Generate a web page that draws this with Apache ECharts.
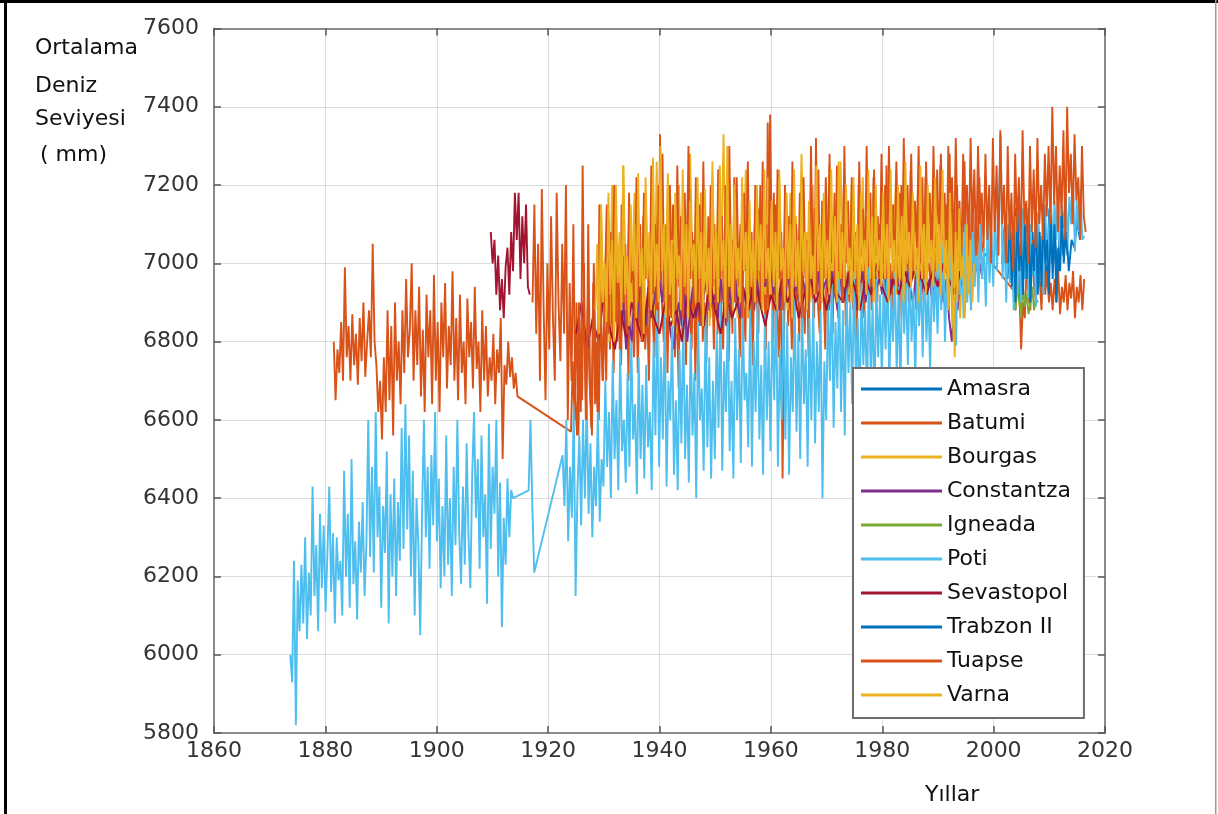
<!DOCTYPE html>
<html>
<head>
<meta charset="utf-8">
<script src="https://cdn.jsdelivr.net/npm/echarts@6/dist/echarts.min.js"></script>
<style>
  html, body { margin: 0; padding: 0; background: #fff; }
  #chart { width: 1218px; height: 814px; }
</style>
</head>
<body>
<div id="chart"></div>
<script>
// monthly-ish sea level readings (mm); x = start year + i * step
const yTicks = [5800, 6000, 6200, 6400, 6600, 6800, 7000, 7200, 7400, 7600];
const xTicks = [1860, 1880, 1900, 1920, 1940, 1960, 1980, 2000, 2020];

const stations = ['Amasra', 'Batumi', 'Bourgas', 'Constantza', 'Igneada', 'Poti', 'Sevastopol', 'Trabzon II', 'Tuapse', 'Varna'];
const colors = ['#0072BD', '#D95319', '#EDB120', '#7E2F8E', '#77AC30', '#4DBEEE', '#A2142F', '#0072BD', '#D95319', '#EDB120'];

const amasra = [7000, 7100, 6960, 7080, 6980, 7140, 6940, 7060, 7000, 7120, 6960, 7080, 6920, 7100, 6980, 7060, 6940, 7140, 7000, 7080, 6960, 7120, 7020, 7100, 6980, 7060, 7040, 7110, 7060];

const batumi1 = [6800, 6650, 6780,
  6720, 6850, 6700, 6990, 6760, 6840, 6700, 6870, 6740, 6820, 6690, 6860, 6750, 6900, 6710, 6800, 6880, 6760,
  7050, 6800, 6740, 6620, 6700, 6550, 6760, 6620, 6880, 6650, 6840, 6560, 6900, 6700, 6800, 6640, 6880, 6720,
  6960, 6760, 6830, 7000, 6700, 6880, 6740, 6940, 6660, 6830, 6620, 6920, 6760, 6880, 6640, 6970, 6700, 6850,
  6620, 6900, 6760, 6950, 6680, 6840, 6740, 6980, 6700, 6860, 6650, 6920, 6720, 6800, 6640, 6910, 6760, 6850,
  6680, 6940, 6730, 6800, 6620, 6880, 6700, 6840, 6660, 6760, 6700, 6820, 6640, 6780, 6720, 6860, 6500, 6740,
  6690, 6800, 6710, 6760, 6680, 6720, 6660];
const batumi2 = [6570, 6750, 6600, 6900, 6560, 6820, 6650, 7000, 6600, 6880, 6700, 6580, 6950, 6640, 6800, 6600, 6920, 6700,
  6880, 6700, 7050, 6780, 6950, 6720, 7100, 6800, 6900, 6740, 7020, 6820, 6960, 6700, 7080, 6850, 6760, 7000, 6720, 6940, 6800, 7120, 6780, 6900, 6700, 7050, 6860, 6760, 7150, 6820,
  7330, 6900, 6800, 7080, 6720, 6980, 6860, 7150, 6760, 6920, 6680, 7100, 6820, 7000, 6740, 7200, 6880, 6780, 7060, 6700, 6950, 6840, 7180, 6800, 6900, 6750, 7120, 6860, 6980, 6780,
  7050, 6820, 7150, 6880, 6780, 7100, 6900, 6750, 7000, 6820, 7220, 6880, 6960, 6760, 7080, 6900, 6800, 7150, 6860, 6980, 6740, 7100, 6920, 6820, 7200, 6880, 7000, 6780, 7360, 6900,
  7080, 6800, 7150, 6900, 6760, 7000, 6450, 6880, 7100, 6840, 6960, 6780, 7120, 6880, 7000, 6800, 7200, 6900, 6820, 7060, 6760, 7150, 6920, 6860, 7320, 6900, 6820, 7080, 6940, 6780,
  7100, 6880, 7000, 6820, 7180, 6920, 6860, 7080, 6900, 7200, 6840, 6980, 6900, 7150, 6880, 7050, 6800, 7200, 6940, 7000, 6860, 7120, 6920, 7050, 6880, 7220, 6960, 6900, 7100, 6940,
  7060, 6900, 7250, 6960, 7000, 6880, 7150, 6940, 7050, 6860, 7200, 6980, 6920, 7100, 6900, 7240, 6960, 7020, 6880, 7160, 6940, 7060, 6900, 7220, 6980, 7000, 6920, 7180, 6960, 7080,
  6940, 7250, 7000, 6960, 7150, 6900, 7280, 6980, 7060, 6920, 7200, 6960, 7100, 6940, 7260, 7000, 7050, 6960, 7180, 6980, 7120, 7000, 7220, 7060, 7030];
const batumi3 = [6930, 6880, 7020, 6950, 6780, 6900, 6860, 7000, 6920, 6880, 7060, 6940, 6900, 7100, 6960, 6880, 7040, 6920,
  6980, 6900, 6950, 6880, 6960, 6900, 6980, 6870, 6940, 6900, 6970, 6880, 6950, 6910, 6980, 6860, 6940, 6900, 6970, 6880, 6960];

const bourgas = [6950, 7150, 6850, 7080, 6800, 7200, 6900, 7050, 6820, 7250, 6880, 7100, 6840, 7180, 6920, 7020, 6800, 7220, 6900, 7080, 6860, 7260,
  6920, 7150, 6860, 7230, 6940, 7060, 6820, 7200, 6900, 7100, 6860, 7280, 6940, 7080, 6880, 7180, 6920, 7050, 6840, 7220,
  6900, 7120, 6960, 7330, 6880, 7100, 6920, 7200, 6860, 7080, 6940, 7240, 6900, 7060, 6960, 7180, 6880, 7120, 6920, 7220,
  6960, 7100, 6900, 7240, 6940, 7060, 6880, 7180, 6960, 7120, 6920, 7280, 6980, 7080, 6900, 7200, 6940, 7060, 6900, 7160,
  6980, 7250, 6940, 7080, 6900, 7260, 6960, 7100, 6920, 7200, 6980, 7060, 6940, 7220, 6900, 7120, 6980, 7180, 6940, 7080,
  6960, 7200, 6920, 7100, 6980, 7240, 6940, 7060, 6900, 7180, 6960, 7120, 6940, 7250, 6980, 7080, 6920, 7160, 6960, 7100,
  6900, 7220, 6940, 7060, 6880, 7100, 6760, 6980, 6860, 7080, 6900, 7000, 6880];

const constantza = [6820, 6900, 6780, 6860, 6800, 6920, 6850, 6960, 6880, 6840, 6920, 6860, 6900, 6950,
  6960, 6900, 6980, 6880, 6820, 6780, 6860, 6900, 6840, 6920, 6800, 6880, 6940, 6860, 6900, 6840, 6920, 6960, 6880, 6900,
  6920, 6860, 6960, 6900, 6840, 6940, 6880, 6980, 6900, 6860, 6940, 6900, 6980, 6920, 6880, 6960, 6900, 7000, 6940, 7010,
  6980, 6920, 6960, 6880, 6940, 6900, 6980, 6920, 6860, 6960, 6900, 6980, 6940, 6880, 6960, 7000, 6920, 6980, 6900, 6940,
  6960, 6900, 6980, 6920, 6880, 6960, 6940, 6900, 6980, 6920, 6960, 6880, 6940, 6980, 6900, 6960, 6920, 7000, 6940, 6960,
  6920, 6980, 6900, 6960, 6940, 7000, 6920, 6960, 6880, 6980, 6940, 6900, 6960, 7000, 6920, 6980, 6940, 6960, 6900, 6980,
  6940, 6980, 6900, 6960, 6860, 6800, 6920, 6880, 6960, 6940, 7000, 6980, 6960, 7020, 6980, 7000, 6960];

const igneada = [6920, 6880, 6950, 6900, 6860, 6940, 6890, 6920, 6870, 6900, 6940, 6880, 6910, 6900];

const poti1 = [6000, 5930, 6240, 5820, 6190, 6060, 6230, 6080, 6300, 6040, 6210, 6100, 6430, 6150, 6280, 6060, 6360, 6170,
  6330, 6110, 6260, 6430, 6160, 6310, 6080, 6300, 6190, 6240, 6100, 6470, 6200, 6360, 6120, 6500, 6180, 6290,
  6090, 6340, 6210, 6390, 6150, 6280, 6600, 6250, 6480, 6210, 6620, 6300, 6430, 6120, 6380, 6260, 6520, 6080,
  6410, 6200, 6450, 6150, 6390, 6240, 6580, 6270, 6640, 6320, 6560, 6200, 6470, 6100, 6400, 6280, 6050, 6360,
  6600, 6300, 6480, 6220, 6510, 6330, 6620, 6290, 6450, 6170, 6380, 6200, 6560, 6230, 6400, 6150, 6480, 6280,
  6600, 6310, 6180, 6430, 6230, 6540, 6300, 6170, 6460, 6620, 6350, 6500, 6220, 6560, 6300, 6410, 6130, 6590,
  6270, 6480, 6360, 6600, 6200, 6440, 6070, 6350, 6230, 6450, 6300, 6420, 6400];
const poti2 = [6420, 6600, 6380, 6210];
const poti3 = [6510, 6380, 6600, 6290, 6480, 6350, 6640, 6150, 6420, 6560, 6330, 6600, 6400, 6650, 6360, 6540, 6300, 6480, 6380, 6620, 6340, 6500,
  6430, 6700, 6480, 6620, 6400, 6750, 6500, 6650, 6420, 6780, 6520, 6600, 6440, 6720, 6480, 6800, 6550, 6640, 6410, 6760, 6500, 6690, 6450, 6740, 6530, 6620, 6420, 6800, 6560, 6880,
  6480, 6760, 6550, 6870, 6430, 6700, 6600, 6840, 6460, 6650, 6420, 6780, 6540, 6860, 6500, 6690, 6440, 6820, 6560, 6720, 6400, 6850, 6600, 6680, 6470, 6870, 6530, 6760, 6450, 6700,
  6500, 6830, 6580, 6900, 6470, 6750, 6620, 6880, 6520, 6700, 6450, 6860, 6600, 6780, 6490, 6900, 6650, 6720, 6530, 6880, 6480, 6800, 6620, 6900, 6550, 6740, 6460, 6870, 6600, 6800,
  6520, 6880, 6650, 6920, 6480, 6780, 6600, 6900, 6550, 6850, 6460, 6760, 6620, 6930, 6570, 6820, 6500, 6900, 6640, 6780, 6480, 6860, 6600, 6910, 6540, 6800, 6620, 6880, 6400, 6750,
  6600, 6900, 6700, 6950, 6580, 6850, 6680, 6960, 6620, 6880, 6560, 6940, 6720, 6900, 6640, 6980, 6700, 6860, 6600, 6950, 6740, 6880, 6650, 6990, 6700, 6900, 6620, 6960, 6760, 6920,
  6700, 6960, 6780, 7000, 6680, 6920, 6800, 6980, 6720, 6940, 6660, 7010, 6820, 6950, 6740, 6990, 6800, 6930, 6700, 7000, 6840, 6960, 6760, 7020, 6800, 6940, 6720, 7000, 6850, 6980,
  6820, 7000, 6880, 7050, 6800, 6980, 6900, 7060, 6840, 7010, 6790, 7080, 6920, 7040, 6860, 7100, 6900, 7020, 6880, 7120, 6940, 7060, 6900, 7100, 6960, 7040, 6890, 7110, 6950, 7080,
  6940, 7120, 6980, 7150, 7330, 6960, 7080, 6900, 7100, 6950, 7060, 6880, 7120, 6920, 7050, 6900, 7140, 6960, 7080, 6910, 7100, 6970, 7040, 6890, 7130, 6990, 7070, 6920, 7150, 7000,
  7080, 7190, 7020, 7160, 7060, 7200, 7000, 7150, 7090, 7180, 7040, 7170, 7100, 7200, 7030, 7160, 7080, 7190, 7060, 7070];

const sevastopol1 = [7080, 7000, 7060, 6920, 7020, 6880, 6960, 6860, 6990, 7040, 6920, 7080, 6980, 7180, 7060, 7180, 6960, 7120, 7000, 7150, 6940, 6920];
const sevastopol2 = [6820, 6900, 6780, 6860, 6800, 6920, 6840, 6780, 6880, 6810, 6900, 6850, 6800, 6940, 6860, 6820, 6900, 6840, 6880, 6800,
  6920, 6860, 6900, 6840, 6960, 6880, 6820, 6920, 6860, 6900, 6940, 6880, 6960, 6900, 6840, 6920, 6880, 6960, 6900, 6940,
  6860, 6920, 6980, 6900, 6940, 6880, 6960, 6920, 6900, 6980, 6940, 6880, 6960, 6920, 7000, 6940, 6900, 6960, 6920, 6980,
  6940, 7000, 6960, 6920, 6980, 6940, 7000, 6960, 6920, 6980];

const trabzon = [7000, 7120, 6940, 7080, 6900, 7150, 6980, 7060, 6920, 7100, 6960, 7140, 6900, 7050, 6980, 7120, 6920, 7080, 6940, 7150, 7000, 7060, 6920, 7120, 6960, 7100, 6900, 7040, 6980, 7130, 7000, 7080, 7020];

const tuapse = [6900, 7150, 6820, 7050, 6700, 7190, 6880, 6650, 7000, 6780, 7120, 6860, 6700, 7180, 6900, 6750, 7050, 6820, 7200, 6600, 6950, 6700, 7100, 6650,
  6560, 6900, 6620, 7250, 6800, 6600, 7100, 6700, 6560, 7000, 6750, 6620, 7150, 6820, 6700,
  6950, 7150, 6820, 7080, 6900, 7200, 6850, 7000, 6780, 7150, 6900, 7050, 6820, 7180, 6950, 7000, 6860, 7220, 6900, 7100, 6800, 7180, 6960, 7050, 6850, 7250, 6920, 7100, 6880, 7200,
  6960, 7280, 6900, 7100, 6850, 7200, 6980, 7050, 6880, 7250, 6940, 7120, 6860, 7180, 6920, 7300, 6960, 7080, 6880, 7220, 6900, 7150, 6840, 7260, 6980, 7050, 6900, 7200, 6940, 7100,
  6880, 7240, 6960, 7120, 6900, 7200, 6850, 7300, 6980, 7060, 6900, 7220, 6940, 7100, 6860, 7180, 6980, 7260, 6920, 7080, 6880, 7200, 6960, 7140, 6900, 7260, 6950, 7100, 6880, 7380,
  6980, 7180, 6900, 7240, 6960, 7080, 6880, 7200, 6940, 7120, 6900, 7260, 6980, 7100, 6920, 7180, 6860, 7220, 6960, 7060, 6900, 7300, 6980, 7140, 6920, 7240, 6880, 7160, 6960, 7220,
  6940, 7280, 7000, 7120, 6920, 7250, 6980, 7100, 6900, 7300, 7000, 7160, 6940, 7220, 6980, 7080, 6920, 7260, 7020, 7140, 6960, 7300, 7000, 7180, 6940, 7240, 7020, 7120, 6960, 7280,
  7000, 7200, 6960, 7300, 7040, 7150, 6980, 7260, 7020, 7180, 6960, 7320, 7060, 7200, 7000, 7280, 6980, 7160, 7040, 7300, 7000, 7220, 6960, 7260, 7080, 7180, 7000, 7300, 7040, 7240,
  7020, 7280, 7060, 7180, 6980, 7300, 7080, 7220, 7000, 7320, 7060, 7160, 7000, 7280, 7100, 7200, 7040, 7320, 7080, 7240, 7020, 7300, 7100, 7180, 7040, 7280, 7060, 7200, 7000, 7320,
  7080, 7250, 7020, 7340, 7100, 7200, 7000, 7300, 7060, 7180, 6980, 7280, 7080, 7220, 7020, 7340, 7100, 7160, 7000, 7300, 7080, 7240, 7040, 7320, 7100, 7200, 7060, 7280, 7120, 7300,
  7100, 7400, 7150, 7300, 7080, 7250, 7120, 7340, 7060, 7400, 7180, 7280, 7100, 7330, 7160, 7220, 7060, 7300, 7120, 7080];

const varna = [6880, 7050, 6820, 7150, 6900,
  7000, 6850, 7180, 6920, 7060, 6800, 7200, 6950, 7080, 6880, 7250, 6920, 7020, 6840, 7150, 6980, 7100, 6860, 7230, 6940, 7040, 6820, 7180, 6960, 7080, 6880, 7270, 6940, 7050, 6900,
  7300, 6980, 7100, 6860, 7200, 6920, 7060, 6840, 7180, 6960, 7020, 6880, 7240, 6940, 7100, 6860, 7160, 6980, 7050, 6900, 7220, 6960, 7080, 6840, 7190, 6920, 7040, 6880, 7260, 6960,
  7080, 6900, 7250, 6980, 7060, 6860, 7300, 6940, 7100, 6880, 7180, 6960, 7040, 6900, 7220, 6980, 7080, 6860, 7160, 6940, 7060, 6900, 7200, 6980, 7100, 6880, 7240, 6960, 7040, 6920,
  7160, 6940, 7080, 6880, 7220, 6980, 7040, 6900, 7180, 6960, 7100, 6860, 7240, 6940, 7060, 6900, 7200, 6980, 7080, 6880, 7160, 6960, 7020, 6920, 7250, 6980, 7100, 6900, 7180, 6960,
  7060, 6920, 7240, 6980, 7120, 6900, 7260, 6960, 7080, 6940, 7200, 6980, 7040, 6900, 7220, 6960, 7100, 6880, 7180, 6980, 7060, 6920, 7240, 6960, 7120, 6900, 7200, 6980, 7060, 6940,
  7180, 6960, 7100, 6900, 7240, 6980, 7060, 6920, 7200, 6960, 7120, 6900, 7260, 7000, 7080, 6940, 7180, 6980, 7040, 6900, 7250, 6960, 7100, 6920, 7200, 7000, 7060, 6940, 7220, 6980,
  7100, 6920, 7240, 6960, 7060, 6880, 7180, 6940, 6800, 7080, 6900, 7140, 6960, 7020, 6860, 7100, 6920, 7060, 6900, 7000];

// turn value runs into [year, value] pairs
function run(start, step, vals) {
  return vals.map((v, i) => [+(start + i * step).toFixed(4), v]);
}
const T = 1 / 3;

const seriesData = {
  'Amasra': run(2001.5, 0.5, amasra),
  'Batumi': run(1881.5, T, batumi1).concat(run(1924.1, T, batumi2), run(2003.6, T, batumi3)),
  'Bourgas': run(1929, 0.5, bourgas),
  'Constantza': run(1933, 0.5, constantza),
  'Igneada': run(2003.6, T, igneada),
  'Poti': run(1873.7, T, poti1).concat(run(1916.5, T, poti2), run(1922.6, T, poti3)),
  'Sevastopol': run(1909.7, T, sevastopol1).concat([[1921, null]], run(1925, 1, sevastopol2)),
  'Trabzon II': run(2002.6, T, trabzon),
  'Tuapse': run(1917.2, T, tuapse),
  'Varna': run(1928.5, T, varna)
};

const chart = echarts.init(document.getElementById('chart'), null, { renderer: 'canvas' });
const font = 'DejaVu Sans';
const axisGray = '#8a8a8a';
const textDark = '#333';

const baseAxis = {
  type: 'value',
  axisLine: { show: true, lineStyle: { color: axisGray, width: 2 } },
  axisTick: { show: true, inside: true, length: 7, lineStyle: { color: '#555', width: 1.5 } },
  splitLine: { show: false }
};

const option = {
  backgroundColor: '#fff',
  animation: false,
  grid: { left: 214, right: 113, top: 28.5, bottom: 81, containLabel: false },
  xAxis: [
    Object.assign({}, baseAxis, {
      position: 'bottom', min: xTicks[0], max: xTicks[xTicks.length - 1], interval: 20,
      axisLabel: { color: textDark, fontFamily: font, fontSize: 22, margin: 7, formatter: v => String(v) },
      splitLine: { show: true, lineStyle: { color: '#dcdcdc', width: 1 } }
    }),
    Object.assign({}, baseAxis, {
      position: 'top', min: xTicks[0], max: xTicks[xTicks.length - 1], interval: 20,
      axisLabel: { show: false }
    })
  ],
  yAxis: [
    Object.assign({}, baseAxis, {
      position: 'left', min: yTicks[0], max: yTicks[yTicks.length - 1], interval: 200,
      axisLabel: { color: textDark, fontFamily: font, fontSize: 22, margin: 15, formatter: v => String(v) },
      splitLine: { show: true, lineStyle: { color: '#dcdcdc', width: 1 } }
    }),
    Object.assign({}, baseAxis, {
      position: 'right', min: yTicks[0], max: yTicks[yTicks.length - 1], interval: 200,
      axisLabel: { show: false }
    })
  ],
  legend: {
    orient: 'vertical',
    left: 853, top: 368,
    data: stations,
    icon: 'rect',
    itemWidth: 81, itemHeight: 3, itemGap: 12,
    padding: [10, 13, 12, 8],
    backgroundColor: '#fff',
    borderColor: '#6e6e6e', borderWidth: 2, borderRadius: 0,
    textStyle: { color: '#111', fontFamily: font, fontSize: 22, lineHeight: 21 }
  },
  series: stations.map((name, i) => ({
    name: name,
    type: 'line',
    xAxisIndex: 0, yAxisIndex: 0,
    data: seriesData[name],
    symbol: 'none',
    showSymbol: false,
    connectNulls: false,
    color: colors[i],
    lineStyle: { width: 1.9, color: colors[i] },
    emphasis: { disabled: true }
  })),
  graphic: [
    { type: 'rect', shape: { x: 0, y: 0, width: 1218, height: 3 }, style: { fill: '#000' }, silent: true },
    { type: 'rect', shape: { x: 4, y: 0, width: 3, height: 814 }, style: { fill: '#000' }, silent: true },
    { type: 'rect', shape: { x: 1215, y: 0, width: 1.5, height: 814 }, style: { fill: '#9a9a9a' }, silent: true },
    { type: 'text', left: 35, top: 37, style: { text: 'Ortalama', fill: '#111', font: '22px "DejaVu Sans"' } },
    { type: 'text', left: 35, top: 75, style: { text: 'Deniz', fill: '#111', font: '22px "DejaVu Sans"' } },
    { type: 'text', left: 35, top: 108, style: { text: 'Seviyesi', fill: '#111', font: '22px "DejaVu Sans"' } },
    { type: 'text', left: 40, top: 144, style: { text: '( mm)', fill: '#111', font: '22px "DejaVu Sans"' } },
    { type: 'text', left: 925, top: 784, style: { text: 'Yıllar', fill: '#111', font: '22px "DejaVu Sans"' } }
  ]
};

chart.setOption(option);
</script>
</body>
</html>
